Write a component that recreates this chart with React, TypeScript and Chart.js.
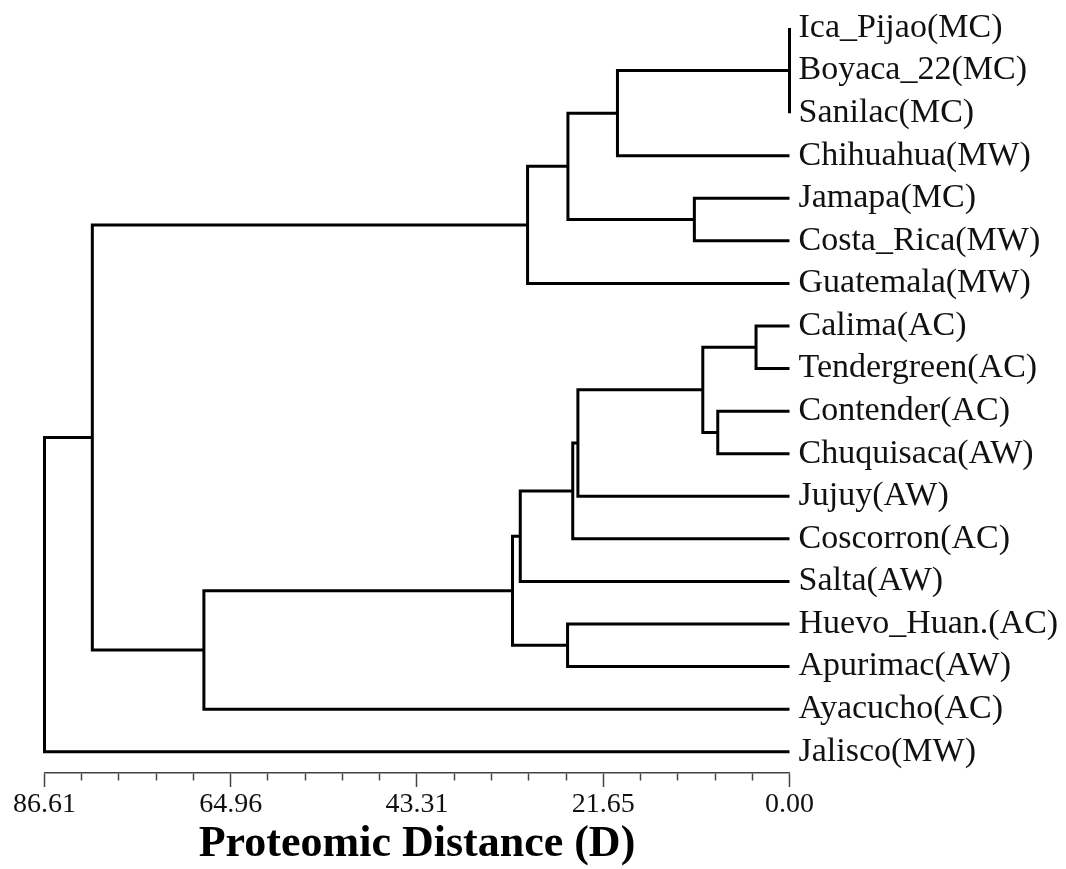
import React, { useEffect, useRef } from 'react';
import { Chart, registerables } from 'chart.js';

Chart.register(...registerables);

// Leaves, top to bottom
const leafNames: string[] = [
  'Ica_Pijao(MC)',
  'Boyaca_22(MC)',
  'Sanilac(MC)',
  'Chihuahua(MW)',
  'Jamapa(MC)',
  'Costa_Rica(MW)',
  'Guatemala(MW)',
  'Calima(AC)',
  'Tendergreen(AC)',
  'Contender(AC)',
  'Chuquisaca(AW)',
  'Jujuy(AW)',
  'Coscorron(AC)',
  'Salta(AW)',
  'Huevo_Huan.(AC)',
  'Apurimac(AW)',
  'Ayacucho(AC)',
  'Jalisco(MW)',
];

// Cluster nodes: children ids (0-17 leaves, 18+ = earlier nodes) and joining distance
const nodeChildren: number[][] = [
  [0, 1, 2],   // 18
  [7, 8],      // 19
  [9, 10],     // 20
  [19, 20],    // 21
  [4, 5],      // 22
  [18, 3],     // 23
  [21, 11],    // 24
  [24, 12],    // 25
  [23, 22],    // 26
  [14, 15],    // 27
  [26, 6],     // 28
  [25, 13],    // 29
  [29, 27],    // 30
  [30, 16],    // 31
  [28, 31],    // 32
  [32, 17],    // 33
];
const nodeHeights: number[] = [
  0.0, 3.89, 8.34, 10.08, 11.06, 20.0, 24.6, 25.2, 25.76, 25.8, 30.45, 31.3, 32.2, 68.08, 81.05, 86.61,
];

const xMajorTicks: number[] = [0, 21.65, 43.31, 64.96, 86.61];
const xMajorLabels: string[] = ['0.00', '21.65', '43.31', '64.96', '86.61'];
const xMinorPerInterval = 5;
const xMax = 86.61;
const axisTitle = 'Proteomic Distance (D)';

const SERIF = "'Liberation Serif', 'Times New Roman', serif";

function buildDatasets() {
  const n = leafNames.length;
  const posY: number[] = leafNames.map((_, i) => i);
  const posH: number[] = leafNames.map(() => 0);
  nodeChildren.forEach((ch, k) => {
    const ys = ch.map((c) => posY[c]);
    posY[n + k] = (Math.min(...ys) + Math.max(...ys)) / 2;
    posH[n + k] = nodeHeights[k];
  });
  const lines: { x: number; y: number }[][] = [];
  nodeChildren.forEach((ch, k) => {
    const h = nodeHeights[k];
    const sorted = [...ch].sort((a, b) => posY[a] - posY[b]);
    const first = sorted[0];
    const last = sorted[sorted.length - 1];
    lines.push([
      { x: posH[first], y: posY[first] },
      { x: h, y: posY[first] },
      { x: h, y: posY[last] },
      { x: posH[last], y: posY[last] },
    ]);
    sorted.slice(1, -1).forEach((c) => {
      lines.push([
        { x: posH[c], y: posY[c] },
        { x: h, y: posY[c] },
      ]);
    });
  });
  return lines.map((data) => ({
    data,
    showLine: true,
    borderColor: '#000',
    borderWidth: 3,
    borderJoinStyle: 'miter' as const,
    borderCapStyle: 'butt' as const,
    pointRadius: 0,
    pointHoverRadius: 0,
    fill: false,
    tension: 0,
    clip: false as const,
  }));
}

function buildXTicks() {
  const vals: { value: number; major: boolean; label: string }[] = [];
  xMajorTicks.forEach((v, i) => {
    if (i > 0) {
      const prev = xMajorTicks[i - 1];
      for (let j = 1; j < xMinorPerInterval; j++) {
        vals.push({ value: prev + ((v - prev) * j) / xMinorPerInterval, major: false, label: '' });
      }
    }
    vals.push({ value: v, major: true, label: xMajorLabels[i] });
  });
  return vals;
}

export default function App() {
  const ref = useRef<HTMLCanvasElement | null>(null);

  useEffect(() => {
    if (!ref.current) return;
    const xTicks = buildXTicks();
    const chart = new Chart(ref.current, {
      type: 'scatter',
      data: { datasets: buildDatasets() as any },
      options: {
        animation: false,
        responsive: true,
        maintainAspectRatio: false,
        layout: { padding: { left: 44.5, top: 6.7, right: 0, bottom: 0 } },
        plugins: { legend: { display: false }, tooltip: { enabled: false } },
        events: [],
        scales: {
          x: {
            type: 'linear',
            position: 'bottom',
            reverse: true,
            min: 0,
            max: xMax,
            afterBuildTicks: (axis: any) => {
              axis.ticks = xTicks.map((t) => ({ value: t.value }));
            },
            afterFit: (scale: any) => {
              scale.height = 96;
            },
            ticks: {
              autoSkip: false,
              maxRotation: 0,
              minRotation: 0,
              padding: 1,
              color: '#111',
              font: { family: SERIF, size: 28 },
              callback: (_v: any, index: number) => (xTicks[index] ? xTicks[index].label : ''),
            },
            grid: {
              display: true,
              drawOnChartArea: false,
              drawTicks: true,
              tickLength: 14,
              tickWidth: 1.5,
              tickColor: '#444',
              tickBorderDash: (ctx: any) => (xTicks[ctx.index] && xTicks[ctx.index].major ? [] : [7, 100]),
            },
            border: { display: true, color: '#444', width: 1.5 },
            title: {
              display: true,
              text: axisTitle,
              color: '#000',
              font: { family: SERIF, size: 44, weight: 'bold', lineHeight: 1.1 },
              padding: { top: 0, bottom: 0 },
            },
          },
          y: {
            type: 'linear',
            position: 'right',
            reverse: true,
            min: -0.5,
            max: leafNames.length - 0.5,
            afterBuildTicks: (axis: any) => {
              axis.ticks = leafNames.map((_, i) => ({ value: i }));
            },
            afterFit: (scale: any) => {
              scale.width = 1066 - 789.5;
              scale.paddingTop = 0;
              scale.paddingBottom = 0;
            },
            ticks: {
              autoSkip: false,
              padding: 9,
              color: '#111',
              font: { family: SERIF, size: 34 },
              callback: (v: any) => leafNames[Number(v)] ?? '',
            },
            grid: { display: false, drawTicks: false },
            border: { display: false },
          },
        },
      } as any,
    });
    return () => chart.destroy();
  }, []);

  return (
    <div style={{ position: 'absolute', left: 0, top: 0, width: 1066, height: 869, background: '#fff' }}>
      <canvas ref={ref} />
    </div>
  );
}
